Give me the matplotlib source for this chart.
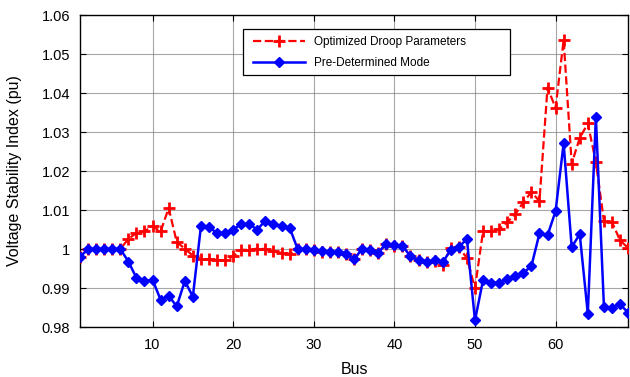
import numpy as np
import matplotlib
matplotlib.use("Agg")
import matplotlib.pyplot as plt
from matplotlib.patches import Rectangle
from matplotlib.ticker import FormatStrFormatter, MultipleLocator

plt.rcParams["font.family"] = ["Liberation Sans", "DejaVu Sans"]

bus = np.arange(1, 70)

# Voltage stability index, optimized droop parameters (red)
optimized = [
    0.9980, 1.0000, 1.0000, 1.0000, 1.0000, 1.0000, 1.0026, 1.0041, 1.0046, 1.0058,
    1.0045, 1.0105, 1.0018, 1.0001, 0.9983, 0.9974, 0.9974, 0.9971, 0.9971, 0.9981,
    0.9998, 0.9998, 1.0001, 1.0000, 0.9994, 0.9990, 0.9987, 1.0000, 1.0000, 0.9998,
    0.9993, 0.9992, 0.9993, 0.9987, 0.9974, 1.0000, 0.9998, 0.9991, 1.0012, 1.0009,
    1.0009, 0.9981, 0.9971, 0.9967, 0.9970, 0.9960, 1.0003, 1.0004, 0.9977, 0.9900,
    1.0045, 1.0045, 1.0051, 1.0069, 1.0089, 1.0120, 1.0146, 1.0123, 1.0414, 1.0362,
    1.0536, 1.0219, 1.0285, 1.0322, 1.0223, 1.0072, 1.0069, 1.0022, 1.0003,
]

# Voltage stability index, pre-determined mode (blue)
predetermined = [
    0.9980, 1.0000, 1.0000, 1.0000, 1.0000, 1.0000, 0.9968, 0.9926, 0.9917, 0.9921,
    0.9870, 0.9880, 0.9853, 0.9918, 0.9878, 1.0058, 1.0056, 1.0041, 1.0041, 1.0050,
    1.0064, 1.0063, 1.0050, 1.0073, 1.0064, 1.0058, 1.0055, 1.0000, 1.0000, 0.9998,
    0.9994, 0.9992, 0.9993, 0.9987, 0.9974, 1.0000, 0.9998, 0.9991, 1.0014, 1.0010,
    1.0009, 0.9981, 0.9971, 0.9967, 0.9971, 0.9966, 0.9998, 1.0005, 1.0026, 0.9817,
    0.9920, 0.9913, 0.9914, 0.9924, 0.9932, 0.9939, 0.9956, 1.0040, 1.0035, 1.0097,
    1.0271, 1.0005, 1.0038, 0.9834, 1.0339, 0.9852, 0.9849, 0.9858, 0.9837,
]

fig = plt.figure(figsize=(6.3, 3.77), dpi=100)
ax = fig.add_axes([0.127, 0.1326, 0.870, 0.8274])

ax.plot(bus, optimized, color="red", linestyle="--", linewidth=1.6,
        marker="+", markersize=8, markeredgewidth=2.0,
        label="Optimized Droop Parameters", zorder=3)
ax.plot(bus, predetermined, color="blue", linestyle="-", linewidth=1.8,
        marker="D", markersize=5, markeredgewidth=1.0,
        label="Pre-Determined Mode", zorder=4)

ax.set_xlim(1, 69)
ax.set_ylim(0.98, 1.06)
ax.xaxis.set_major_locator(MultipleLocator(10))
ax.yaxis.set_major_locator(MultipleLocator(0.01))
ax.yaxis.set_major_formatter(FormatStrFormatter("%g"))
ax.tick_params(axis="both", which="major", direction="in", length=4,
               top=True, right=True, labelsize=10.5)
ax.tick_params(axis="y", pad=7)
ax.tick_params(axis="x", pad=8)
ax.grid(which="major", linestyle="-", linewidth=0.8, color="#808080", alpha=0.7)
for s in ax.spines.values():
    s.set_linewidth(1.0)

ax.set_xlabel("Bus", fontsize=11.5, labelpad=7)
ax.set_ylabel("Voltage Stability Index (pu)", fontsize=11.5, labelpad=14)

# legend box drawn separately, MATLAB style with extra room on the right
box = Rectangle((0.2974, 0.8077), 0.4873, 0.1473, transform=ax.transAxes,
                facecolor="white", edgecolor="black", linewidth=0.9, zorder=5)
ax.add_patch(box)
leg = ax.legend(loc="center left", bbox_to_anchor=(0.3157, 0.8798), fontsize=8.5,
                frameon=False, handlelength=4.4, handletextpad=0.75,
                borderpad=0, borderaxespad=0, labelspacing=0.8)
leg.set_zorder(6)

fig.savefig("out.png", dpi=100)
